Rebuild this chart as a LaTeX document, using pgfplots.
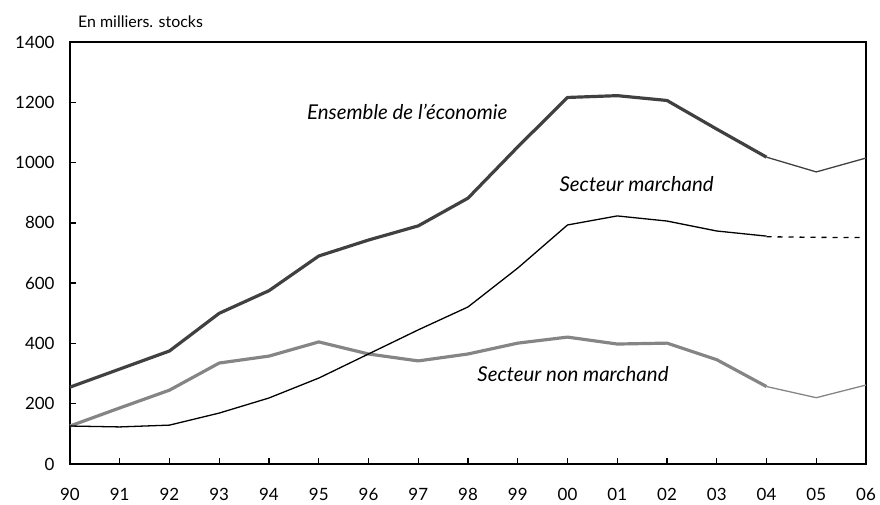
\documentclass[border=0pt]{standalone}
\usepackage{pgfplots}
\pgfplotsset{compat=1.18}
\usepackage{fontspec}
\setmainfont{Lato}
\definecolor{ens}{HTML}{404040}
\definecolor{nonm}{HTML}{858585}
\begin{document}
\begin{tikzpicture}
\begin{axis}[
  scale only axis, width=796bp, height=422bp,
  xmin=0, xmax=16, ymin=0, ymax=1400,
  xtick={0,...,16},
  xticklabels={90,91,92,93,94,95,96,97,98,99,00,01,02,03,04,05,06},
  ytick={0,200,...,1400},
  tick align=inside, major tick length=6bp,
  xtick pos=bottom, ytick pos=left,
  axis line style={line width=1.6pt},
  every tick/.style={line width=1.4pt, black},
  tick label style={font=\fontsize{17}{19}\selectfont},
  xticklabel style={yshift=-21bp},
  yticklabel style={xshift=-12bp},
  /pgf/number format/assume math mode=true,
  yticklabel={\pgfmathprintnumber[fixed,1000 sep={}]{\tick}},
  clip=false,
]
% Ensemble de l'economie
\addplot[ens, line width=3.2pt, line join=round] coordinates {
(0,255) (1,315) (2,375) (3,500) (4,575) (5,690) (6,743) (7,790) (8,882) (9,1052) (10,1216) (11,1222) (12,1206) (13,1111) (14,1018)};
\addplot[ens, line width=1.3pt, line join=round] coordinates {
(14,1018) (15,969) (16,1015)};
% Secteur non marchand
\addplot[nonm, line width=3.2pt, line join=round] coordinates {
(0,126) (1,186) (2,245) (3,335) (4,358) (5,405) (6,365) (7,342) (8,365) (9,401) (10,421) (11,398) (12,401) (13,346) (14,257)};
\addplot[nonm, line width=1.3pt, line join=round] coordinates {
(14,257) (15,220) (16,262)};
% Secteur marchand
\addplot[black, line width=1.3pt, line join=round] coordinates {
(0,126) (1,123) (2,129) (3,169) (4,219) (5,285) (6,365) (7,445) (8,521) (9,650) (10,793) (11,823) (12,806) (13,773) (14,756)};
\addplot[black, line width=1.3pt, dash pattern=on 5bp off 6bp] coordinates {
(14,754) (15,752) (16,751)};
\node[font=\fontsize{20.5}{22}\selectfont\itshape] at (axis cs:6.78,1168) {Ensemble de l'économie};
\node[font=\fontsize{20.5}{22}\selectfont\itshape] at (axis cs:11.39,929) {Secteur marchand};
\node[font=\fontsize{20.5}{22}\selectfont\itshape] at (axis cs:10.11,298) {Secteur non marchand};
\node[anchor=west, font=\fontsize{16}{18}\selectfont, inner sep=0pt] at (rel axis cs:0.01,1.0474) {En milliers. stocks};
\path (rel axis cs:-0.08794,-0.09479) rectangle (rel axis cs:1.01759,1.09953);
\end{axis}
\end{tikzpicture}
\end{document}
